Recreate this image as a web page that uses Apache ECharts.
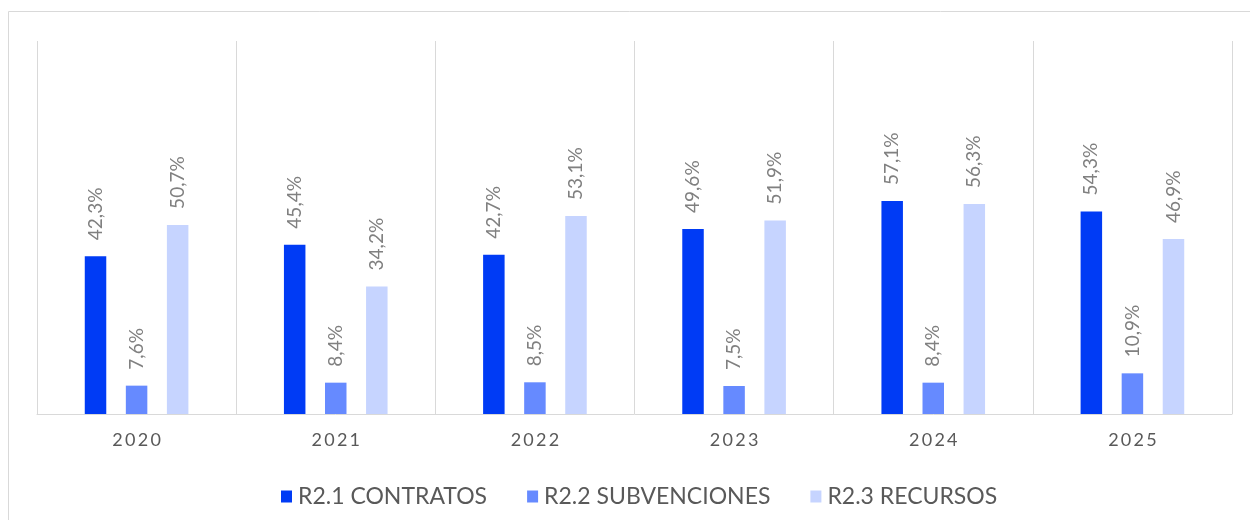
<!DOCTYPE html>
<html>
<head>
<meta charset="utf-8">
<script src="https://cdn.jsdelivr.net/npm/echarts@6/dist/echarts.min.js"></script>
<style>
html,body{margin:0;padding:0;background:#fff;}
#chart{width:1250px;height:520px;}
</style>
</head>
<body>
<div id="chart"></div>
<script>
const categories = ['2020','2021','2022','2023','2024','2025'];
const seriesNames = ['R2.1 CONTRATOS','R2.2 SUBVENCIONES','R2.3 RECURSOS'];
const contratos = [42.3, 45.4, 42.7, 49.6, 57.1, 54.3];
const subvenciones = [7.6, 8.4, 8.5, 7.5, 8.4, 10.9];
const recursos = [50.7, 34.2, 53.1, 51.9, 56.3, 46.9];
const colors = ['#003BF5', '#668AFF', '#C6D4FF'];

const chart = echarts.init(document.getElementById('chart'), null, {renderer:'canvas'});
const FONT = 'Lato, "Open Sans", sans-serif';
function mkSeries(name, data, color){
  return {
    name: name, type: 'bar', data: data,
    barWidth: 21.5, barGap: '91%',
    itemStyle: {color: color},
    label: {
      show: true, position: 'top', rotate: 90, align: 'left', verticalAlign: 'middle',
      distance: 16, color: '#808080', fontSize: 19, fontFamily: FONT,
      formatter: p => p.value.toFixed(1).replace('.', ',') + '%'
    }
  };
}
chart.setOption({
  animation: false,
  color: colors,
  graphic: [{
    type: 'rect', shape: {x: 8.5, y: 11.5, width: 1300, height: 600},
    style: {fill: 'none', stroke: '#d9d9d9', lineWidth: 1}, silent: true
  }],
  grid: {left: 37, right: 18, top: 41, bottom: 106, containLabel: false},
  legend: {
    top: 480, left: 276, itemWidth: 11, itemHeight: 12, itemGap: 40,
    icon: 'rect',
    textStyle: {color: '#595959', fontSize: 23, fontFamily: FONT, padding: [0, 0, 0, 1]},
    data: seriesNames
  },
  xAxis: {
    type: 'category', data: categories,
    axisLine: {lineStyle: {color: '#d9d9d9', width: 1}},
    axisTick: {show: false},
    splitLine: {show: true, lineStyle: {color: '#d9d9d9', width: 1}},
    axisLabel: {
      color: '#595959', fontSize: 18, fontFamily: FONT, margin: 17,
      formatter: v => v.split('').join('\u2009')
    }
  },
  yAxis: {
    type: 'value', min: 0, max: 100, show: false,
    splitLine: {show: false}
  },
  series: [
    mkSeries(seriesNames[0], contratos, colors[0]),
    mkSeries(seriesNames[1], subvenciones, colors[1]),
    mkSeries(seriesNames[2], recursos, colors[2])
  ]
});
</script>
</body>
</html>
